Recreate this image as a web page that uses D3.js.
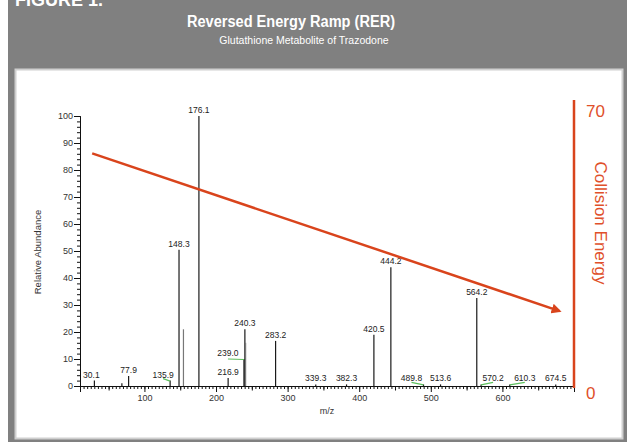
<!DOCTYPE html>
<html>
<head>
<meta charset="utf-8">
<script src="https://cdn.jsdelivr.net/npm/d3@7"></script>
<style>
  html, body { margin: 0; padding: 0; background: #fff; }
  svg { display: block; font-family: "Liberation Sans", Arial, sans-serif; }
</style>
</head>
<body>
<div id="chart"></div>
<script>
// spectrum peaks (m/z, relative abundance, label)
const peakMz = [30.1, 68.5, 77.9, 135.9, 148.3, 154.5, 176.1, 216.9, 239.0, 240.3, 241.3, 283.2,
  339.3, 382.3, 420.5, 444.2, 489.8, 513.6, 564.2, 570.2, 610.3, 674.5];
const peakAbund = [2, 1, 3.7, 2, 50.5, 21, 100, 3, 10, 21, 16, 16.7,
  0.6, 0.6, 19, 44, 0.6, 0.6, 32.6, 0.6, 0.6, 0.6];
const peakLabel = ["30.1", "", "77.9", "135.9", "148.3", "", "176.1", "216.9", "239.0", "240.3", "", "283.2",
  "339.3", "382.3", "420.5", "444.2", "489.8", "513.6", "564.2", "570.2", "610.3", "674.5"];
// labels carrying a green marker underneath
const greenLabels = ["135.9", "239.0", "489.8", "570.2", "610.3"];

// collision energy ramp (m/z, CE)
const rampMz = [27, 680];
const rampCE = [59, 19];

const xTicks = [100, 200, 300, 400, 500, 600];
const yTicks = [0, 10, 20, 30, 40, 50, 60, 70, 80, 90, 100];
const ceTicks = [0, 70];

const W = 627, H = 442;
const red = "#d9441c";

const svg = d3.select("#chart").append("svg")
  .attr("width", W).attr("height", H);

// gray frame + white panel
svg.append("rect").attr("x", 8).attr("y", 0).attr("width", W - 8).attr("height", H).attr("fill", "#808080");
svg.append("rect").attr("x", 15.5).attr("y", 69.5).attr("width", 607).attr("height", 369)
  .attr("fill", "#fff").attr("stroke", "#cfcfcf").attr("stroke-width", 2);

svg.append("text").attr("x", 15).attr("y", 6)
  .attr("fill", "#fff").style("font-size", "18px").style("font-weight", "bold").text("FIGURE 1.");
svg.append("text").attr("x", 187).attr("y", 27)
  .attr("textLength", 208).attr("lengthAdjust", "spacingAndGlyphs")
  .attr("fill", "#fff").style("font-size", "16px").style("font-weight", "bold")
  .text("Reversed Energy Ramp (RER)");
svg.append("text").attr("x", 304).attr("y", 44).attr("text-anchor", "middle")
  .attr("fill", "#fff").style("font-size", "10.5px")
  .text("Glutathione Metabolite of Trazodone");

const x = d3.scaleLinear().domain([10, 700]).range([80, 574]);
const y = d3.scaleLinear().domain([0, 100]).range([386, 116]);
const ce = d3.scaleLinear().domain([0, 70]).range([386, 110]);

// y axis
const yAxis = svg.append("g").attr("transform", `translate(${x(10)},0)`);
yAxis.call(d3.axisLeft(y).tickValues(d3.range(0, 101, 2)).tickSize(3).tickFormat(""));
yAxis.append("g").call(d3.axisLeft(y).tickValues(yTicks).tickSize(6).tickPadding(1));
yAxis.selectAll("path.domain").attr("stroke", "#111");
yAxis.selectAll("line").attr("stroke", "#111");
yAxis.selectAll("text").style("font-size", "9px").attr("fill", "#333").style("font-family", "Liberation Sans, Arial");

// x axis
const xAxis = svg.append("g").attr("transform", `translate(0,${y(0)})`);
xAxis.call(d3.axisBottom(x).tickValues(d3.range(10, 701, 5)).tickSize(3).tickSizeOuter(0).tickFormat(""));
xAxis.append("g").call(d3.axisBottom(x).tickValues(d3.range(50, 701, 100)).tickSize(4.5).tickFormat(""));
xAxis.append("g").call(d3.axisBottom(x).tickValues(xTicks).tickSize(6).tickPadding(3));
xAxis.selectAll("path.domain").attr("stroke", "#111");
xAxis.selectAll("line").attr("stroke", "#111");
xAxis.selectAll("text").style("font-size", "9px").attr("fill", "#333").style("font-family", "Liberation Sans, Arial");

svg.append("text").attr("x", 327).attr("y", 414).attr("text-anchor", "middle")
  .style("font-size", "9px").attr("fill", "#333").text("m/z");
svg.append("text").attr("transform", `translate(41,252) rotate(-90)`).attr("text-anchor", "middle")
  .style("font-size", "9.5px").attr("fill", "#333").text("Relative Abundance");

// peaks
const peaks = peakMz.map((mz, i) => ({ mz, ab: peakAbund[i], label: peakLabel[i] }));
// label shifts that keep neighbouring labels apart
const nudge = { "30.1": -3, "135.9": -7, "239.0": -16, "489.8": -12, "570.2": 12, "610.3": 15 };
const lx = d => x(d.mz) + (nudge[d.label] || 0);

svg.append("g").selectAll("line").data(peaks).join("line")
  .attr("x1", d => x(d.mz)).attr("x2", d => x(d.mz))
  .attr("y1", y(0)).attr("y2", d => y(d.ab))
  .attr("stroke", d => d.label === "" && d.ab > 5 ? "#777" : "#1a1a1a")
  .attr("stroke-width", 1.2);

const lbl = peaks.filter(d => d.label !== "");

svg.append("g").selectAll("line").data(lbl.filter(d => greenLabels.includes(d.label))).join("line")
  .attr("x1", d => lx(d)).attr("x2", d => x(d.mz))
  .attr("y1", d => y(d.ab) - (d.ab < 5 ? 2 : 0))
  .attr("y2", d => y(d.ab) + 0.5)
  .attr("stroke", "#5cbf5c").attr("stroke-width", 1.2);

svg.append("g").selectAll("text").data(lbl).join("text")
  .attr("x", lx)
  .attr("y", d => y(d.ab) - 3)
  .attr("text-anchor", "middle")
  .style("font-size", "8.5px").attr("fill", "#222")
  .text(d => d.label);

// collision energy axis
const ceX = 574;
svg.append("line").attr("x1", ceX).attr("x2", ceX).attr("y1", ce(0) + 2).attr("y2", 100)
  .attr("stroke", red).attr("stroke-width", 2.5);
svg.append("g").selectAll("text").data(ceTicks).join("text")
  .attr("x", 586).attr("y", d => d === 0 ? ce(d) + 13 : ce(d) + 7)
  .style("font-size", "17px").attr("fill", "#e0502a")
  .text(d => d);
svg.append("text").attr("transform", `translate(595,223) rotate(90)`).attr("text-anchor", "middle")
  .style("font-size", "17px").attr("fill", "#e0502a").text("Collision Energy");

// ramp arrow
svg.append("defs").append("marker")
  .attr("id", "arrow").attr("viewBox", "0 0 10 10").attr("refX", 8).attr("refY", 5)
  .attr("markerWidth", 4).attr("markerHeight", 4).attr("orient", "auto")
  .append("path").attr("d", "M0,0L10,5L0,10z").attr("fill", red);

const ramp = rampMz.map((mz, i) => [x(mz), ce(rampCE[i])]);
svg.append("path").attr("d", d3.line()(ramp))
  .attr("stroke", red).attr("stroke-width", 2.5).attr("fill", "none")
  .attr("marker-end", "url(#arrow)");
</script>
</body>
</html>
